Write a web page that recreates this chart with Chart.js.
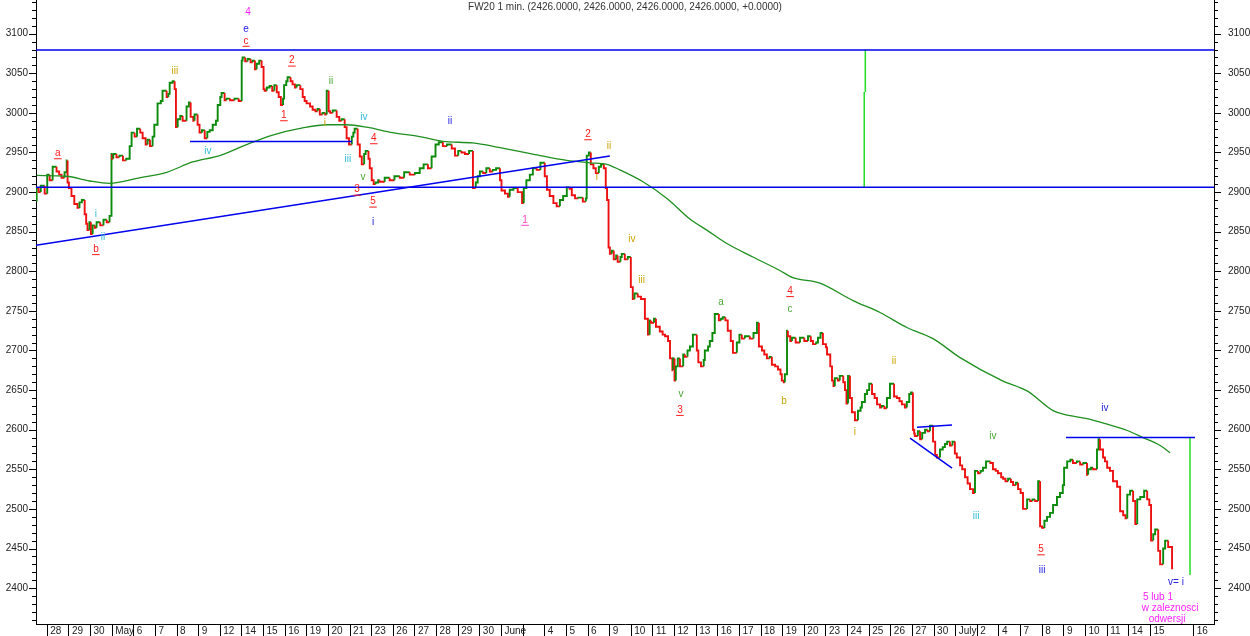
<!DOCTYPE html>
<html>
<head>
<meta charset="utf-8">
<title>FW20 1 min.</title>
<script src="https://cdn.jsdelivr.net/npm/chart.js@4.4.1/dist/chart.umd.min.js"></script>
<style>
  html, body { margin: 0; padding: 0; background: #fff; }
  #wrap { width: 1250px; height: 636px; }
</style>
</head>
<body>
<div id="wrap"><canvas id="chart"></canvas></div>
<script>
const chartTitle = "FW20 1 min. (2426.0000, 2426.0000, 2426.0000, 2426.0000, +0.0000)";

// one box per trading day on the time axis
const dayLabels = ["28", "29", "30", "May", "6", "7", "8", "9", "12", "14", "15", "16", "19", "20", "21", "23", "26", "27", "28", "29", "30", "June", "", "4", "5", "6", "9", "10", "11", "12", "13", "16", "17", "18", "19", "20", "23", "24", "25", "26", "27", "30", "July", "2", "4", "7", "8", "9", "10", "11", "14", "15", "", "16"];
const noSeparatorAt = [52];
const priceTicks = [2400, 2450, 2500, 2550, 2600, 2650, 2700, 2750, 2800, 2850, 2900, 2950, 3000, 3050, 3100];
const dayRange = [-0.52, 53.94];
const priceRange = [2354.7, 3142.5];

// [day position, price]
const pricePath = [
  [-0.49, 2888], [-0.4, 2905], [-0.3, 2900], [-0.12, 2908], [0, 2898], [0.11, 2922], [0.25, 2915], [0.43, 2932],
  [0.55, 2926], [0.66, 2922], [0.8, 2918], [0.9, 2925], [0.94, 2940], [1, 2912], [1.12, 2905], [1.25, 2895],
  [1.4, 2885], [1.49, 2880], [1.6, 2887], [1.73, 2890], [1.8, 2872], [1.86, 2860], [1.95, 2852], [2.02, 2862],
  [2.1, 2847], [2.2, 2858], [2.28, 2855], [2.45, 2862], [2.6, 2858], [2.75, 2865], [2.88, 2862], [2.97, 2870],
  [3, 2948], [3.05, 2942], [3.2, 2948], [3.34, 2944], [3.5, 2946], [3.65, 2940], [3.81, 2942], [3.9, 2958],
  [4.04, 2975], [4.15, 2970], [4.3, 2980], [4.41, 2975], [4.55, 2968], [4.64, 2960], [4.75, 2966], [4.87, 2958],
  [4.95, 2970], [5.1, 2985], [5.25, 3012], [5.33, 3015], [5.52, 3028], [5.6, 3020], [5.66, 3024], [5.8, 3038],
  [5.89, 3040], [5.95, 3030], [6.03, 2982], [6.15, 2992], [6.26, 2996], [6.44, 2990], [6.55, 3008], [6.63, 3013],
  [6.75, 2995], [6.81, 2990], [6.95, 2998], [7.04, 2985], [7.15, 2975], [7.28, 2978], [7.4, 2968], [7.51, 2976],
  [7.65, 2978], [7.8, 2985], [7.88, 2990], [8, 3010], [8.06, 3020], [8.2, 3025], [8.29, 3016], [8.45, 3018],
  [8.66, 3016], [8.85, 3018], [8.99, 3015], [9.03, 3066], [9.15, 3070], [9.26, 3065], [9.4, 3068], [9.5, 3064],
  [9.6, 3066], [9.68, 3055], [9.8, 3062], [9.91, 3066], [10, 3058], [10.05, 3030], [10.15, 3028], [10.28, 3032],
  [10.4, 3034], [10.5, 3028], [10.61, 3035], [10.7, 3026], [10.8, 3020], [10.9, 3010], [10.95, 3018], [11.05, 3035],
  [11.11, 3040], [11.25, 3045], [11.34, 3040], [11.45, 3036], [11.53, 3032], [11.7, 3035], [11.81, 3030], [11.9, 3020],
  [11.99, 3015], [12.15, 3012], [12.27, 3008], [12.4, 3004], [12.5, 3002], [12.6, 3005], [12.73, 2998], [12.85, 3000],
  [12.92, 2998], [13.01, 3028], [13.08, 3002], [13.2, 3000], [13.38, 3003], [13.5, 2995], [13.61, 2990], [13.75, 2992],
  [13.84, 2982], [13.95, 2968], [14.08, 2960], [14.15, 2970], [14.21, 2975], [14.35, 2980], [14.45, 2960], [14.54, 2945],
  [14.65, 2935], [14.72, 2948], [14.85, 2952], [14.91, 2942], [15, 2930], [15.09, 2915], [15.18, 2910], [15.3, 2912],
  [15.37, 2915], [15.6, 2913], [15.83, 2918], [16.05, 2915], [16.3, 2920], [16.5, 2918], [16.76, 2925], [17, 2922],
  [17.22, 2924], [17.4, 2930], [17.6, 2935], [17.77, 2930], [17.95, 2945], [18.1, 2960], [18.29, 2963], [18.48, 2958],
  [18.7, 2960], [18.85, 2955], [19, 2946], [19.15, 2952], [19.31, 2950], [19.5, 2948], [19.68, 2952], [19.81, 2905],
  [19.9, 2912], [20, 2920], [20.15, 2926], [20.3, 2924], [20.46, 2930], [20.6, 2926], [20.75, 2928], [20.93, 2930],
  [21, 2915], [21.16, 2902], [21.3, 2898], [21.38, 2894], [21.55, 2903], [21.75, 2905], [21.95, 2900], [22.03, 2886],
  [22.15, 2905], [22.31, 2915], [22.45, 2922], [22.63, 2930], [22.8, 2928], [23, 2937], [23.1, 2920], [23.23, 2903],
  [23.4, 2895], [23.55, 2886], [23.7, 2882], [23.85, 2890], [24.02, 2895], [24.15, 2906], [24.25, 2904], [24.4, 2896],
  [24.55, 2892], [24.76, 2893], [24.9, 2888], [24.94, 2892], [25.04, 2946], [25.13, 2950], [25.25, 2935], [25.36, 2930],
  [25.5, 2924], [25.6, 2932], [25.73, 2935], [25.82, 2930], [25.88, 2905], [25.95, 2890], [26.01, 2830], [26.1, 2822],
  [26.19, 2826], [26.3, 2815], [26.37, 2820], [26.5, 2812], [26.56, 2818], [26.7, 2822], [26.84, 2815], [26.98, 2818],
  [27.07, 2780], [27.15, 2765], [27.3, 2772], [27.45, 2768], [27.63, 2765], [27.77, 2740], [27.85, 2720], [27.91, 2738],
  [28.05, 2735], [28.14, 2740], [28.32, 2730], [28.45, 2724], [28.56, 2720], [28.7, 2718], [28.79, 2712], [28.9, 2690],
  [28.93, 2675], [29, 2690], [29.06, 2662], [29.15, 2680], [29.25, 2690], [29.4, 2680], [29.48, 2695], [29.6, 2692],
  [29.71, 2700], [29.85, 2705], [30.03, 2720], [30.1, 2700], [30.22, 2685], [30.35, 2680], [30.4, 2688], [30.55, 2700],
  [30.63, 2705], [30.75, 2712], [30.86, 2722], [31.05, 2746], [31.15, 2738], [31.23, 2740], [31.35, 2742], [31.46, 2738],
  [31.6, 2725], [31.7, 2712], [31.88, 2697], [32, 2710], [32.11, 2720], [32.25, 2715], [32.48, 2718], [32.65, 2715],
  [32.81, 2722], [32.9, 2735], [33.04, 2705], [33.15, 2700], [33.27, 2695], [33.4, 2690], [33.5, 2692], [33.65, 2682],
  [33.78, 2680], [33.9, 2676], [33.96, 2670], [34.05, 2662], [34.1, 2660], [34.2, 2670], [34.24, 2725], [34.35, 2718],
  [34.43, 2712], [34.6, 2716], [34.8, 2710], [35, 2716], [35.17, 2712], [35.3, 2718], [35.4, 2712], [35.55, 2708],
  [35.63, 2710], [35.75, 2716], [35.86, 2722], [36, 2708], [36.05, 2704], [36.2, 2695], [36.28, 2680], [36.35, 2662],
  [36.41, 2655], [36.55, 2665], [36.64, 2662], [36.8, 2668], [36.88, 2660], [36.95, 2650], [37.02, 2633], [37.11, 2668],
  [37.2, 2640], [37.34, 2622], [37.48, 2612], [37.6, 2624], [37.66, 2628], [37.8, 2635], [37.9, 2645], [38, 2650],
  [38.13, 2658], [38.25, 2645], [38.36, 2640], [38.5, 2632], [38.59, 2628], [38.7, 2630], [38.82, 2627], [38.96, 2640],
  [39.15, 2658], [39.28, 2642], [39.4, 2640], [39.51, 2636], [39.65, 2632], [39.74, 2628], [39.85, 2635], [39.93, 2645],
  [40.02, 2647], [40.08, 2600], [40.11, 2595], [40.25, 2592], [40.35, 2598], [40.45, 2588], [40.58, 2596], [40.7, 2600],
  [40.81, 2598], [40.95, 2605], [41.05, 2585], [41.13, 2568], [41.27, 2565], [41.4, 2575], [41.5, 2578], [41.6, 2582],
  [41.73, 2585], [41.85, 2580], [41.96, 2585], [42.05, 2570], [42.2, 2565], [42.3, 2555], [42.43, 2550], [42.55, 2540],
  [42.66, 2532], [42.8, 2525], [42.89, 2520], [43.03, 2548], [43.15, 2545], [43.26, 2548], [43.4, 2552], [43.49, 2560],
  [43.6, 2560], [43.72, 2558], [43.85, 2550], [43.95, 2548], [44.1, 2545], [44.19, 2540], [44.3, 2538], [44.42, 2535],
  [44.55, 2538], [44.65, 2534], [44.78, 2530], [44.88, 2533], [45, 2525], [45.11, 2520], [45.3, 2500], [45.44, 2512],
  [45.55, 2510], [45.67, 2512], [45.81, 2510], [45.9, 2535], [45.99, 2478], [46.1, 2476], [46.22, 2485], [46.36, 2490],
  [46.5, 2495], [46.68, 2505], [46.82, 2515], [46.95, 2520], [47.01, 2530], [47.15, 2552], [47.3, 2560], [47.42, 2562],
  [47.6, 2558], [47.75, 2560], [47.9, 2556], [48.07, 2558], [48.12, 2543], [48.25, 2550], [48.35, 2552], [48.53, 2550],
  [48.6, 2575], [48.67, 2588], [48.81, 2575], [48.9, 2565], [49, 2560], [49.13, 2552], [49.27, 2548], [49.46, 2535],
  [49.6, 2528], [49.74, 2497], [49.85, 2492], [49.93, 2488], [50.06, 2518], [50.2, 2523], [50.3, 2510], [50.39, 2481],
  [50.53, 2512], [50.71, 2515], [50.85, 2523], [50.95, 2512], [51.03, 2505], [51.13, 2460], [51.22, 2468], [51.36, 2474],
  [51.45, 2447], [51.59, 2430], [51.68, 2450], [51.82, 2460], [52, 2452], [52.05, 2425]
];

// moving average
const averagePath = [
  [-0.49, 2921], [0.89, 2920], [1.96, 2914], [2.88, 2911], [4.27, 2918], [5.52, 2925], [6.72, 2938], [7.97, 2946],
  [9.22, 2960], [10.42, 2972], [11.81, 2981], [12.92, 2985], [13.84, 2985], [14.77, 2982], [15.97, 2975], [17.22, 2970],
  [18.29, 2964], [19.67, 2962], [20.93, 2956], [22.45, 2948], [24.02, 2940], [25.08, 2937], [25.87, 2935], [26.47, 2928],
  [27.54, 2913], [28.65, 2892], [29.71, 2866], [30.49, 2852], [31.42, 2835], [32.62, 2818], [33.87, 2801], [34.47, 2792],
  [35.72, 2785], [37.25, 2763], [38.5, 2748], [39.74, 2729], [40.95, 2715], [42.2, 2691], [44.14, 2662], [45.3, 2649],
  [46.5, 2624], [47.05, 2619], [48.07, 2614], [49, 2607], [49.93, 2599], [50.66, 2590], [51.45, 2580], [51.91, 2571]
];

// drawn lines: [day0, price0, day1, price1]
const trendLines = [
  [-0.52, 3079.4, 53.94, 3079.4],
  [-0.52, 2906, 53.94, 2906],
  [6.6, 2964, 14.09, 2964],
  [-0.52, 2833, 26.01, 2945.6],
  [40.21, 2603, 41.83, 2606],
  [39.89, 2589.5, 41.83, 2551.6],
  [47.1, 2590, 53.06, 2590]
];
const rangeLines = [
  [37.77, 2906, 37.77, 3026.4],
  [37.82, 3026.4, 37.82, 3080],
  [52.83, 2590, 52.83, 2416.5]
];

// wave counts: text, day, price, degree
const waveText = ["4", "e", "c", "a", "i", "ii", "b", "iii", "iv", "1", "2", "ii", "i", "iv", "4", "iii", "v", "3", "5", "i",
  "ii", "1", "2", "ii", "i", "iv", "iii", "v", "3", "a", "4", "c", "b", "i", "ii", "iv", "iii", "5", "iii", "iv", "v= i",
  "5 lub 1", "w zaleznosci", "odwersji"];
const waveDay = [9.28, 9.19, 9.19, 0.49, 2.25, 2.58, 2.25, 5.9, 7.43, 10.94, 11.31, 13.12, 12.84, 14.64, 15.1, 13.9, 14.6,
  14.32, 15.06, 15.06, 18.62, 22.09, 25.0, 25.97, 25.41, 27.03, 27.48, 29.3, 29.25, 31.15, 34.34, 34.34, 34.06, 37.34,
  39.15, 43.72, 42.94, 45.94, 45.99, 48.9, 52.18, 51.35, 51.91, 51.77];
const wavePrice = [3127, 3106, 3091, 2949, 2872, 2843, 2828, 3053, 2951, 2997, 3066, 3040, 2987, 2994, 2968, 2942, 2919,
  2903, 2888, 2862, 2990, 2865, 2973, 2958, 2919, 2841, 2789, 2645, 2625, 2761, 2775, 2752, 2636, 2597, 2687, 2592, 2491,
  2449, 2422, 2627, 2408, 2388, 2374, 2361];
const waveDegree = ["note", "intermediate", "primary", "primary", "minor", "minor", "primary", "minute", "minor", "primary",
  "primary", "minuette", "minute", "minor", "primary", "minor", "minuette", "primary", "primary", "intermediate",
  "intermediate", "alternate", "primary", "minute", "minute", "minute", "minute", "minuette", "primary", "minuette",
  "primary", "minuette", "minute", "minute", "minute", "minuette", "minor", "primary", "intermediate", "intermediate",
  "intermediate", "note", "note", "note"];

const degreeStyle = {
  primary: { color: "#ff1a1a", underline: true },
  alternate: { color: "#ff44bb", underline: true },
  intermediate: { color: "#2222dd", underline: false },
  minor: { color: "#33bcd4", underline: false },
  minute: { color: "#cca400", underline: false },
  minuette: { color: "#4aa834", underline: false },
  note: { color: "#ff22ff", underline: false },
};

const fontFamily = "'Liberation Sans', Arial, sans-serif";
Chart.defaults.font.family = fontFamily;
Chart.defaults.font.size = 10;
Chart.defaults.color = "#222";

const axisTicks = {
  id: "axisTicks",
  afterDraw(chart) {
    const { ctx, chartArea } = chart;
    const y = chart.scales.y;
    ctx.save();
    ctx.strokeStyle = "#000";
    ctx.lineWidth = 1;
    ctx.beginPath();
    for (let v = Math.ceil(y.min / 10) * 10; v <= y.max; v += 10) {
      const py = Math.round(y.getPixelForValue(v)) + 0.5;
      const len = v % 50 === 0 ? 7 : 4;
      ctx.moveTo(chartArea.left - len, py);
      ctx.lineTo(chartArea.left, py);
      ctx.moveTo(chartArea.right, py);
      ctx.lineTo(chartArea.right + len, py);
    }
    ctx.stroke();
    ctx.restore();
  },
};

const titleText = {
  id: "titleText",
  afterDraw(chart) {
    const { ctx } = chart;
    ctx.save();
    ctx.font = "10px " + fontFamily;
    ctx.fillStyle = "#333";
    ctx.textAlign = "center";
    ctx.textBaseline = "middle";
    ctx.fillText(chartTitle, 625, 7);
    ctx.restore();
  },
};

const waveLabels = {
  id: "waveLabels",
  afterDatasetsDraw(chart) {
    const { ctx } = chart;
    const x = chart.scales.x;
    const y = chart.scales.y;
    ctx.save();
    ctx.font = "10px " + fontFamily;
    ctx.textAlign = "center";
    ctx.textBaseline = "middle";
    waveText.forEach((text, i) => {
      const style = degreeStyle[waveDegree[i]];
      const px = x.getPixelForValue(waveDay[i]);
      const py = y.getPixelForValue(wavePrice[i]);
      ctx.fillStyle = style.color;
      ctx.fillText(text, px, py);
      if (style.underline) {
        const w = ctx.measureText(text).width;
        ctx.fillRect(px - w / 2 - 1, py + 5, w + 2, 1);
      }
    });
    ctx.restore();
  },
};

const segmentSet = (seg, color, width) => ({
  data: [{ x: seg[0], y: seg[1] }, { x: seg[2], y: seg[3] }],
  borderColor: color,
  borderWidth: width,
  pointRadius: 0,
  order: 1,
});

const datasets = [
  {
    data: pricePath.map(([x, y]) => ({ x, y })),
    stepped: "after",
    borderWidth: 1.9,
    pointRadius: 0,
    borderColor: "#0b8a0b",
    segment: {
      borderColor: (ctx) => (ctx.p1.parsed.y >= ctx.p0.parsed.y ? "#0b8a0b" : "#ee1111"),
    },
    order: 3,
  },
  {
    data: averagePath.map(([x, y]) => ({ x, y })),
    borderColor: "#1f8f1f",
    borderWidth: 1.3,
    pointRadius: 0,
    cubicInterpolationMode: "monotone",
    order: 2,
  },
  ...trendLines.map((seg) => segmentSet(seg, "#0000ee", 1.5)),
  ...rangeLines.map((seg) => segmentSet(seg, "#22dd22", 1.5)),
];

// no extra room around the plot for half labels
function dropPadding(scale) {
  scale.paddingTop = 0;
  scale.paddingBottom = 0;
  scale.paddingLeft = 0;
  scale.paddingRight = 0;
}

const priceAxis = (position, padding) => ({
  type: "linear",
  position,
  min: priceRange[0],
  max: priceRange[1],
  afterFit: (scale) => {
    scale.width = 36;
    dropPadding(scale);
  },
  afterBuildTicks: (scale) => { scale.ticks = priceTicks.map((value) => ({ value })); },
  ticks: { padding, color: "#222", font: { size: 10 }, callback: (v) => String(v) },
  grid: { display: false, drawTicks: false },
  border: { color: "#000", width: 1 },
});

new Chart(document.getElementById("chart"), {
  type: "line",
  data: { datasets },
  options: {
    responsive: true,
    maintainAspectRatio: false,
    animation: false,
    layout: { padding: 0 },
    plugins: { legend: { display: false }, tooltip: { enabled: false } },
    scales: {
      x: {
        type: "linear",
        min: dayRange[0],
        max: dayRange[1],
        afterFit: (scale) => {
          scale.height = 12;
          dropPadding(scale);
        },
        afterBuildTicks: (scale) => { scale.ticks = dayLabels.map((_, i) => ({ value: i })); },
        ticks: {
          autoSkip: false,
          maxRotation: 0,
          align: "start",
          labelOffset: 3,
          padding: -11,
          color: "#222",
          callback: (v) => dayLabels[v],
        },
        grid: {
          drawOnChartArea: false,
          tickLength: 12,
          tickColor: (ctx) => (noSeparatorAt.includes(ctx.index) ? "rgba(0,0,0,0)" : "#000"),
        },
        border: { color: "#000", width: 1 },
      },
      y: priceAxis("left", 8),
      y2: priceAxis("right", 14),
    },
  },
  plugins: [axisTicks, waveLabels, titleText],
});
</script>
</body>
</html>
